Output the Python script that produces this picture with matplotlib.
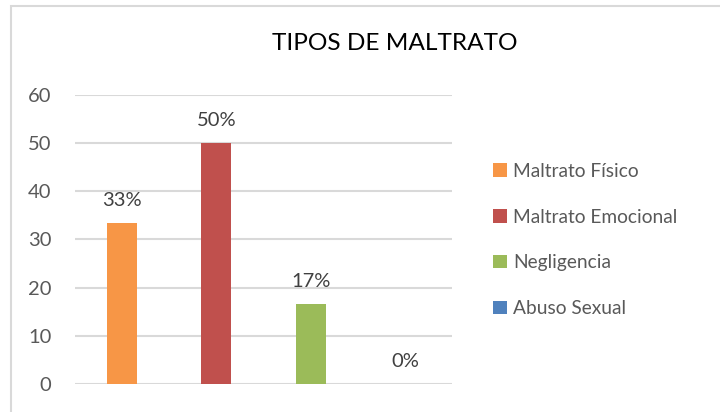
import matplotlib.pyplot as plt
from matplotlib.patches import Rectangle, Patch

# datos
categorias = ["Maltrato Físico", "Maltrato Emocional", "Negligencia", "Abuso Sexual"]
valores = [33.33, 50.0, 16.67, 0.0]
etiquetas = ["33%", "50%", "17%", "0%"]
colores = ["#F79646", "#C0504D", "#9BBB59", "#4F81BD"]
ticks_y = [0, 10, 20, 30, 40, 50, 60]

plt.rcParams["font.family"] = ["Lato", "DejaVu Sans"]

fig = plt.figure(figsize=(7.2, 4.12), dpi=100)
ax = fig.add_axes([75 / 720, 1 - 384 / 412, 377 / 720, (384 - 94.7) / 412])

x = list(range(len(categorias)))
barras = ax.bar(x, valores, width=0.32, color=colores, zorder=3)

for xi, v, et in zip(x, valores, etiquetas):
    ax.annotate(et, (xi, v), xytext=(0, 10), textcoords="offset points",
                ha="center", va="bottom", fontsize=14.5, color="#404040")

ax.set_xlim(-0.5, 3.5)
ax.set_ylim(0, 60)
ax.set_yticks(ticks_y)
ax.set_xticks([])
ax.tick_params(axis="y", length=0, pad=17, labelsize=14.5, labelcolor="#595959")
ax.grid(axis="y", color="#d9d9d9", linewidth=1.5, zorder=0)
for s in ax.spines.values():
    s.set_visible(False)

fig.text(395 / 720, 1 - 43 / 412, "TIPOS DE MALTRATO", ha="center", va="center",
         fontsize=17.6, color="#000000")

handles = [Patch(facecolor=c, edgecolor="none") for c in colores]
fig.legend(handles, categorias, loc="center left",
           bbox_to_anchor=(493 / 720, 1 - 240 / 412), frameon=False,
           fontsize=13.8, labelcolor="#595959", handlelength=0.72,
           handleheight=0.7, handletextpad=0.32, labelspacing=1.5,
           borderaxespad=0, borderpad=0)

# borde del gráfico
fig.add_artist(Rectangle((11 / 720, -0.1), 1.0, 1 - 6 / 412 + 0.1,
                         transform=fig.transFigure, fill=False,
                         edgecolor="#d9d9d9", linewidth=1.5))

fig.savefig("out.png", dpi=100)
